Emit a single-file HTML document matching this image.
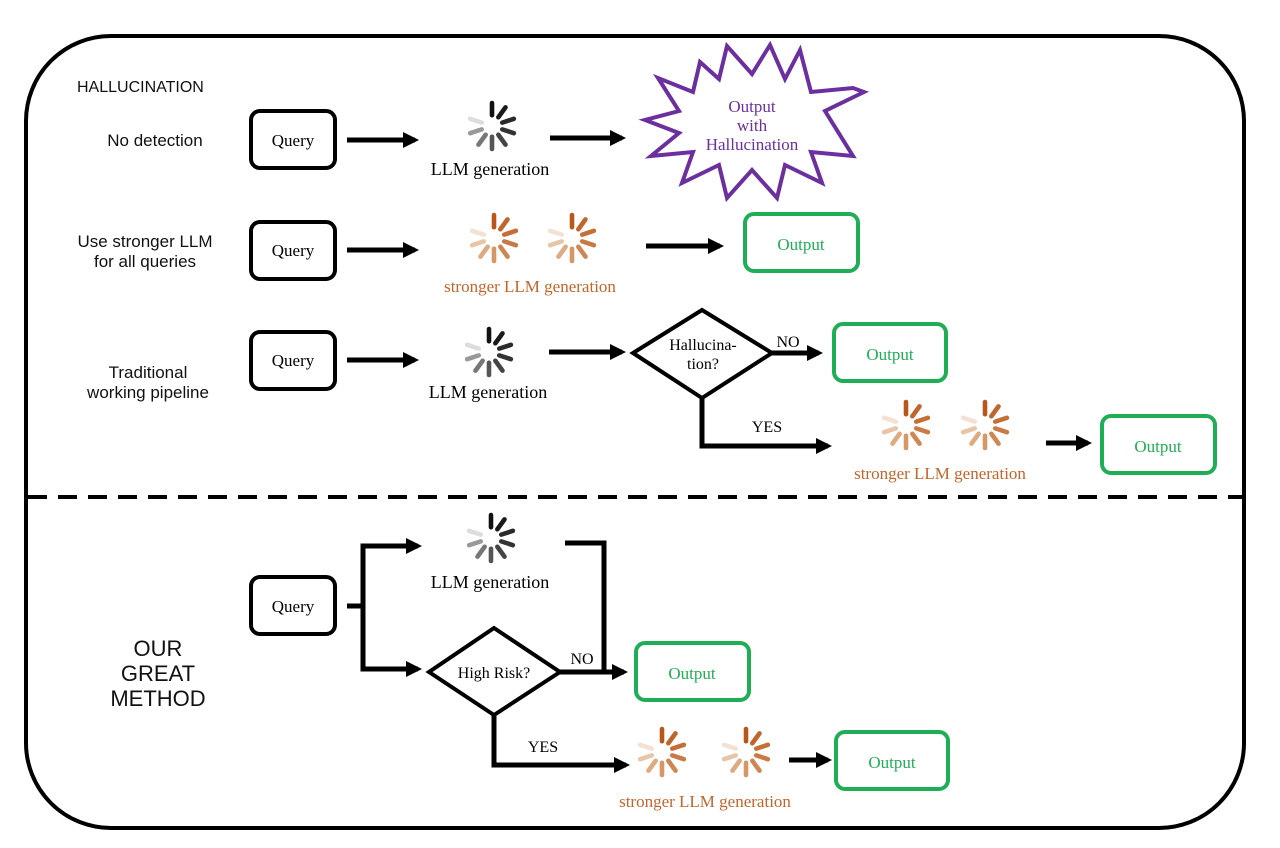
<!DOCTYPE html>
<html><head><meta charset="utf-8"><style>
html,body{margin:0;padding:0;background:#fff;}
svg{display:block;}
.s{font-family:"Liberation Sans",sans-serif;fill:#111;}
.r{font-family:"Liberation Serif",serif;}
</style></head><body>
<svg width="1280" height="848" viewBox="0 0 1280 848" xmlns="http://www.w3.org/2000/svg">
<defs>
<marker id="ah" markerWidth="3.2" markerHeight="3.2" refX="2.4" refY="1.6" orient="auto" markerUnits="strokeWidth">
<path d="M0,0 L3.2,1.6 L0,3.2 z" fill="#000"/>
</marker>
<g id="spg" stroke-linecap="round" stroke-width="3.4" transform="scale(1.35)">
<line x1="0" y1="-8" x2="0" y2="-17" stroke="#111"/>
<line x1="4.7" y1="-6.5" x2="10" y2="-13.8" stroke="#1a1a1a"/>
<line x1="7.6" y1="-2.5" x2="16.2" y2="-5.3" stroke="#2a2a2a"/>
<line x1="7.6" y1="2.5" x2="16.2" y2="5.3" stroke="#333"/>
<line x1="4.7" y1="6.5" x2="10" y2="13.8" stroke="#444"/>
<line x1="0" y1="8" x2="0" y2="17" stroke="#555"/>
<line x1="-4.7" y1="6.5" x2="-10" y2="13.8" stroke="#777"/>
<line x1="-7.6" y1="2.5" x2="-16.2" y2="5.3" stroke="#999"/>
<line x1="-7.6" y1="-2.5" x2="-16.2" y2="-5.3" stroke="#ddd"/>
</g>
<g id="spo" stroke-linecap="round" stroke-width="3.4" transform="scale(1.35)">
<line x1="0" y1="-8" x2="0" y2="-17" stroke="#b9571b"/>
<line x1="4.7" y1="-6.5" x2="10" y2="-13.8" stroke="#c0652b"/>
<line x1="7.6" y1="-2.5" x2="16.2" y2="-5.3" stroke="#c56f36"/>
<line x1="7.6" y1="2.5" x2="16.2" y2="5.3" stroke="#c97a45"/>
<line x1="4.7" y1="6.5" x2="10" y2="13.8" stroke="#ce8753"/>
<line x1="0" y1="8" x2="0" y2="17" stroke="#d59765"/>
<line x1="-4.7" y1="6.5" x2="-10" y2="13.8" stroke="#deab80"/>
<line x1="-7.6" y1="2.5" x2="-16.2" y2="5.3" stroke="#e8c5a6"/>
<line x1="-7.6" y1="-2.5" x2="-16.2" y2="-5.3" stroke="#f3e2d3"/>
</g>
</defs>

<rect x="26" y="36" width="1218" height="792" rx="85" fill="none" stroke="#000" stroke-width="4"/>
<line x1="28" y1="497" x2="1242" y2="497" stroke="#000" stroke-width="4" stroke-dasharray="19,11"/>

<text x="77" y="92" class="s" font-size="16">HALLUCINATION</text>

<!-- Row 1 -->
<text x="155" y="146" class="s" font-size="17" text-anchor="middle">No detection</text>
<rect x="251" y="111" width="84" height="57" rx="9" fill="#fff" stroke="#000" stroke-width="4"/>
<text x="293" y="146" class="r" font-size="17" text-anchor="middle">Query</text>
<line x1="347" y1="140" x2="415" y2="140" stroke="#000" stroke-width="5" marker-end="url(#ah)"/>
<use href="#spg" x="492" y="126"/>
<text x="490" y="175" class="r" font-size="18" text-anchor="middle">LLM generation</text>
<line x1="550" y1="138" x2="622" y2="138" stroke="#000" stroke-width="5" marker-end="url(#ah)"/>
<polygon points="864,92 825,111 853,156 811,152 822,183 785,165 777,198 752,170 727,198 719,165 682,183 693,152 651,156 679,133 645,120 679,111 658,78 693,92 700,62 719,79 727,46 752,74 770,45 785,79 800,50 811,92 853,88" fill="#fff" stroke="#6b2fa0" stroke-width="4" stroke-linejoin="miter"/>
<text x="752" y="112" class="r" font-size="17" fill="#6b2fa0" text-anchor="middle">Output</text>
<text x="752" y="131" class="r" font-size="17" fill="#6b2fa0" text-anchor="middle">with</text>
<text x="752" y="150" class="r" font-size="17" fill="#6b2fa0" text-anchor="middle">Hallucination</text>

<!-- Row 2 -->
<text x="145" y="247" class="s" font-size="17" text-anchor="middle">Use stronger LLM</text>
<text x="145" y="267" class="s" font-size="17" text-anchor="middle">for all queries</text>
<rect x="251" y="222" width="84" height="57" rx="9" fill="#fff" stroke="#000" stroke-width="4"/>
<text x="293" y="256" class="r" font-size="17" text-anchor="middle">Query</text>
<line x1="347" y1="250" x2="415" y2="250" stroke="#000" stroke-width="5" marker-end="url(#ah)"/>
<use href="#spo" x="494" y="238"/>
<use href="#spo" x="572" y="238"/>
<text x="530" y="292" class="r" font-size="17" fill="#c0652b" text-anchor="middle">stronger LLM generation</text>
<line x1="646" y1="246" x2="720" y2="246" stroke="#000" stroke-width="5" marker-end="url(#ah)"/>
<rect x="745" y="214" width="113" height="57" rx="9" fill="#fff" stroke="#1fae55" stroke-width="4"/>
<text x="801" y="250" class="r" font-size="17" fill="#1fae55" text-anchor="middle">Output</text>

<!-- Row 3 -->
<text x="148" y="378" class="s" font-size="17" text-anchor="middle">Traditional</text>
<text x="148" y="398" class="s" font-size="17" text-anchor="middle">working pipeline</text>
<rect x="251" y="332" width="84" height="57" rx="9" fill="#fff" stroke="#000" stroke-width="4"/>
<text x="293" y="366" class="r" font-size="17" text-anchor="middle">Query</text>
<line x1="347" y1="360" x2="415" y2="360" stroke="#000" stroke-width="5" marker-end="url(#ah)"/>
<use href="#spg" x="489" y="352"/>
<text x="488" y="398" class="r" font-size="18" text-anchor="middle">LLM generation</text>
<line x1="549" y1="352" x2="622" y2="352" stroke="#000" stroke-width="5" marker-end="url(#ah)"/>
<polyline points="702,398 702,446 828,446" fill="none" stroke="#000" stroke-width="5" marker-end="url(#ah)"/>
<polygon points="702,310 772,353 702,398 633,353" fill="#fff" stroke="#000" stroke-width="4"/>
<text x="703" y="350" class="r" font-size="16" text-anchor="middle">Hallucina-</text>
<text x="703" y="369" class="r" font-size="16" text-anchor="middle">tion?</text>
<text x="788" y="347" class="r" font-size="16" text-anchor="middle">NO</text>
<line x1="772" y1="353" x2="819" y2="353" stroke="#000" stroke-width="5" marker-end="url(#ah)"/>
<rect x="834" y="324" width="112" height="57" rx="9" fill="#fff" stroke="#1fae55" stroke-width="4"/>
<text x="890" y="360" class="r" font-size="17" fill="#1fae55" text-anchor="middle">Output</text>
<text x="767" y="432" class="r" font-size="16" text-anchor="middle">YES</text>
<use href="#spo" x="906" y="425"/>
<use href="#spo" x="985" y="425"/>
<text x="940" y="479" class="r" font-size="17" fill="#c0652b" text-anchor="middle">stronger LLM generation</text>
<line x1="1046" y1="443" x2="1088" y2="443" stroke="#000" stroke-width="5" marker-end="url(#ah)"/>
<rect x="1102" y="416" width="113" height="57" rx="9" fill="#fff" stroke="#1fae55" stroke-width="4"/>
<text x="1158" y="452" class="r" font-size="17" fill="#1fae55" text-anchor="middle">Output</text>

<!-- Bottom -->
<text x="158" y="656" class="s" font-size="22" text-anchor="middle">OUR</text>
<text x="158" y="681" class="s" font-size="22" text-anchor="middle">GREAT</text>
<text x="158" y="706" class="s" font-size="22" text-anchor="middle">METHOD</text>
<rect x="251" y="577" width="84" height="57" rx="9" fill="#fff" stroke="#000" stroke-width="4"/>
<text x="293" y="612" class="r" font-size="17" text-anchor="middle">Query</text>
<line x1="347" y1="606" x2="363" y2="606" stroke="#000" stroke-width="5"/>
<polyline points="400,546 363,546 363,669 400,669" fill="none" stroke="#000" stroke-width="5"/>
<line x1="363" y1="546" x2="418" y2="546" stroke="#000" stroke-width="5" marker-end="url(#ah)"/>
<line x1="363" y1="669" x2="418" y2="669" stroke="#000" stroke-width="5" marker-end="url(#ah)"/>
<use href="#spg" x="491" y="538"/>
<text x="490" y="588" class="r" font-size="18" text-anchor="middle">LLM generation</text>
<polyline points="565,543 604,543 604,672" fill="none" stroke="#000" stroke-width="5"/>
<polyline points="494,715 494,765 626,765" fill="none" stroke="#000" stroke-width="5" marker-end="url(#ah)"/>
<polygon points="494,628 560,672 494,715 429,672" fill="#fff" stroke="#000" stroke-width="4"/>
<text x="494" y="678" class="r" font-size="16" text-anchor="middle">High Risk?</text>
<text x="582" y="664" class="r" font-size="16" text-anchor="middle">NO</text>
<line x1="560" y1="672" x2="624" y2="672" stroke="#000" stroke-width="5" marker-end="url(#ah)"/>
<rect x="636" y="643" width="113" height="57" rx="9" fill="#fff" stroke="#1fae55" stroke-width="4"/>
<text x="692" y="679" class="r" font-size="17" fill="#1fae55" text-anchor="middle">Output</text>
<text x="543" y="752" class="r" font-size="16" text-anchor="middle">YES</text>
<use href="#spo" x="662" y="752"/>
<use href="#spo" x="746" y="752"/>
<text x="705" y="807" class="r" font-size="17" fill="#c0652b" text-anchor="middle">stronger LLM generation</text>
<line x1="789" y1="760" x2="828" y2="760" stroke="#000" stroke-width="5" marker-end="url(#ah)"/>
<rect x="836" y="732" width="112" height="57" rx="9" fill="#fff" stroke="#1fae55" stroke-width="4"/>
<text x="892" y="768" class="r" font-size="17" fill="#1fae55" text-anchor="middle">Output</text>
</svg>
</body></html>
